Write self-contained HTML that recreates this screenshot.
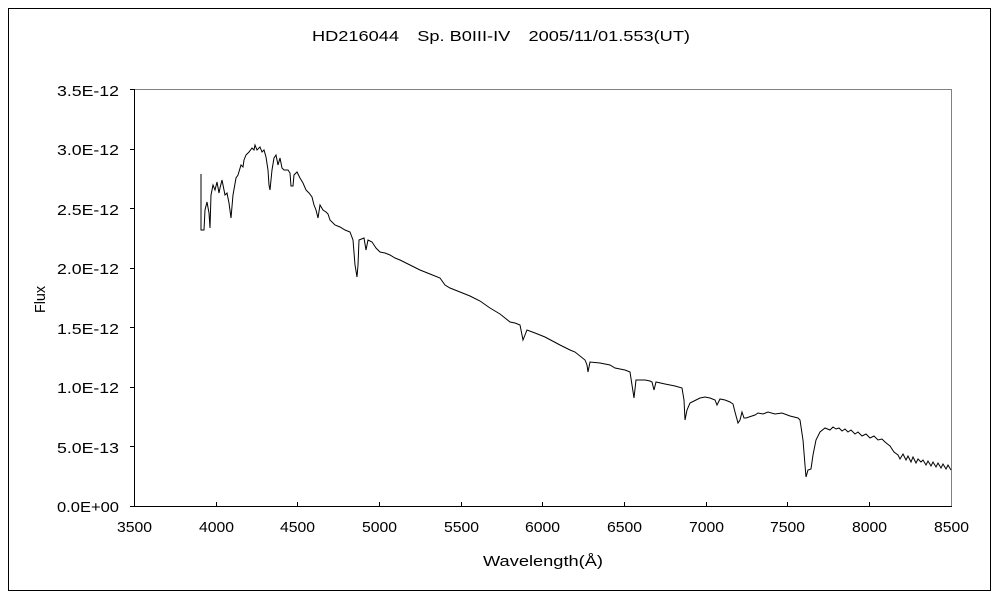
<!DOCTYPE html>
<html><head><meta charset="utf-8"><style>
html,body{margin:0;padding:0;background:#fff;}
svg{display:block;font-family:"Liberation Sans","Noto Sans CJK JP",sans-serif;}
</style></head><body>
<svg width="1000" height="600" viewBox="0 0 1000 600" xmlns="http://www.w3.org/2000/svg">
<rect x="0" y="0" width="1000" height="600" fill="#fff"/>
<rect x="8.5" y="8.5" width="982" height="582" fill="none" stroke="#000" stroke-width="1"/>
<text x="312" y="41" font-size="15" textLength="378" lengthAdjust="spacingAndGlyphs">HD216044　Sp. B0III-IV　2005/11/01.553(UT)</text>
<line x1="134" y1="89.5" x2="951" y2="89.5" stroke="#808080"/>
<line x1="951.5" y1="89" x2="951.5" y2="506" stroke="#808080"/>
<line x1="134.5" y1="89" x2="134.5" y2="507" stroke="#000"/>
<line x1="134" y1="506.5" x2="952" y2="506.5" stroke="#000"/>
<g stroke="#000">
<line x1="130" y1="89.5" x2="134" y2="89.5"/>
<line x1="130" y1="149.5" x2="134" y2="149.5"/>
<line x1="130" y1="208.5" x2="134" y2="208.5"/>
<line x1="130" y1="268.5" x2="134" y2="268.5"/>
<line x1="130" y1="327.5" x2="134" y2="327.5"/>
<line x1="130" y1="387.5" x2="134" y2="387.5"/>
<line x1="130" y1="446.5" x2="134" y2="446.5"/>
<line x1="130" y1="506.5" x2="134" y2="506.5"/>
<line x1="216.5" y1="502" x2="216.5" y2="506"/>
<line x1="297.5" y1="502" x2="297.5" y2="506"/>
<line x1="379.5" y1="502" x2="379.5" y2="506"/>
<line x1="461.5" y1="502" x2="461.5" y2="506"/>
<line x1="542.5" y1="502" x2="542.5" y2="506"/>
<line x1="624.5" y1="502" x2="624.5" y2="506"/>
<line x1="706.5" y1="502" x2="706.5" y2="506"/>
<line x1="787.5" y1="502" x2="787.5" y2="506"/>
<line x1="869.5" y1="502" x2="869.5" y2="506"/>
</g>
<g font-size="15">
<text x="57" y="96" textLength="62" lengthAdjust="spacingAndGlyphs">3.5E-12</text>
<text x="57" y="155" textLength="62" lengthAdjust="spacingAndGlyphs">3.0E-12</text>
<text x="57" y="215" textLength="62" lengthAdjust="spacingAndGlyphs">2.5E-12</text>
<text x="57" y="274" textLength="62" lengthAdjust="spacingAndGlyphs">2.0E-12</text>
<text x="57" y="334" textLength="62" lengthAdjust="spacingAndGlyphs">1.5E-12</text>
<text x="57" y="393" textLength="62" lengthAdjust="spacingAndGlyphs">1.0E-12</text>
<text x="57" y="453" textLength="62" lengthAdjust="spacingAndGlyphs">5.0E-13</text>
<text x="57" y="512" textLength="62" lengthAdjust="spacingAndGlyphs">0.0E+00</text>
</g>
<g font-size="15">
<text x="117" y="532" textLength="35" lengthAdjust="spacingAndGlyphs">3500</text>
<text x="199" y="532" textLength="35" lengthAdjust="spacingAndGlyphs">4000</text>
<text x="280" y="532" textLength="35" lengthAdjust="spacingAndGlyphs">4500</text>
<text x="362" y="532" textLength="35" lengthAdjust="spacingAndGlyphs">5000</text>
<text x="444" y="532" textLength="35" lengthAdjust="spacingAndGlyphs">5500</text>
<text x="525" y="532" textLength="35" lengthAdjust="spacingAndGlyphs">6000</text>
<text x="607" y="532" textLength="35" lengthAdjust="spacingAndGlyphs">6500</text>
<text x="689" y="532" textLength="35" lengthAdjust="spacingAndGlyphs">7000</text>
<text x="770" y="532" textLength="35" lengthAdjust="spacingAndGlyphs">7500</text>
<text x="852" y="532" textLength="35" lengthAdjust="spacingAndGlyphs">8000</text>
<text x="934" y="532" textLength="35" lengthAdjust="spacingAndGlyphs">8500</text>
<text x="483" y="566" textLength="120" lengthAdjust="spacingAndGlyphs">Wavelength(Å)</text>
</g>
<text x="0" y="0" font-size="15" textLength="27" lengthAdjust="spacingAndGlyphs" transform="translate(45,313) rotate(-90)">Flux</text>
<polyline fill="none" stroke="#000" stroke-width="1" points="
201,174 201,230 204,230 205,210 207,202 209,213 210,228 211,195 213,185 215,190 217,182 219,193 220,188 222,180 225,195 227,193 229,203 231,218 233,195 236,178 238,175 241,165 243,167 244,160 246,155 249,152 252,148 254,150 255,145 257,150 260,147 262,152 264,150 266,157 268,170 269,185 270,190 272,170 274,158 276,155 278,165 280,158 282,168 284,170 288,170 290,173 291,186 293,186 294,175 297,172 300,178 303,183 306,190 309,193 312,197 314,205 316,210 318,218 320,205 323,210 326,212 328,214 330,220 335,225 340,227 345,230 350,232 353,240 355,265 357,277 358,265 359,240 364,238 366,250 368,240 372,242 374,245 376,248 380,252 385,253 390,255 395,258 400,260 410,265 420,270 430,274 440,278 445,285 450,288 460,292 470,296 480,301 490,308 500,314 505,318 510,322 515,323 520,325 523,340 525,335 527,330 535,333 545,337 560,345 570,350 575,352 585,360 587,365 588,372 590,362 600,363 610,365 615,368 625,370 630,372 632,385 634,398 636,380 645,380 650,381 652,382 654,390 656,382 665,384 675,386 682,388 684,400 685,420 687,410 690,403 696,400 700,398 705,397 710,398 715,400 717,405 720,399 725,400 730,402 733,404 735,412 738,423 740,420 742,412 744,418 746,418 752,416 755,415 758,413 763,414 768,412 775,414 782,413 790,416 798,418 800,420 803,440 805,465 806,477 808,470 811,469 813,455 816,440 820,432 825,428 830,430 833,427 836,429 839,428 842,431 845,429 848,432 851,430 855,434 858,432 862,436 866,434 870,438 874,436 878,440 882,439 885,442 890,446 894,452 898,455 900,459 903,454 906,460 908,456 911,462 913,457 916,463 918,459 921,462 923,460 926,465 928,461 931,466 933,462 936,467 938,463 941,468 943,464 946,469 948,465 951,470"/>
</svg>
</body></html>
